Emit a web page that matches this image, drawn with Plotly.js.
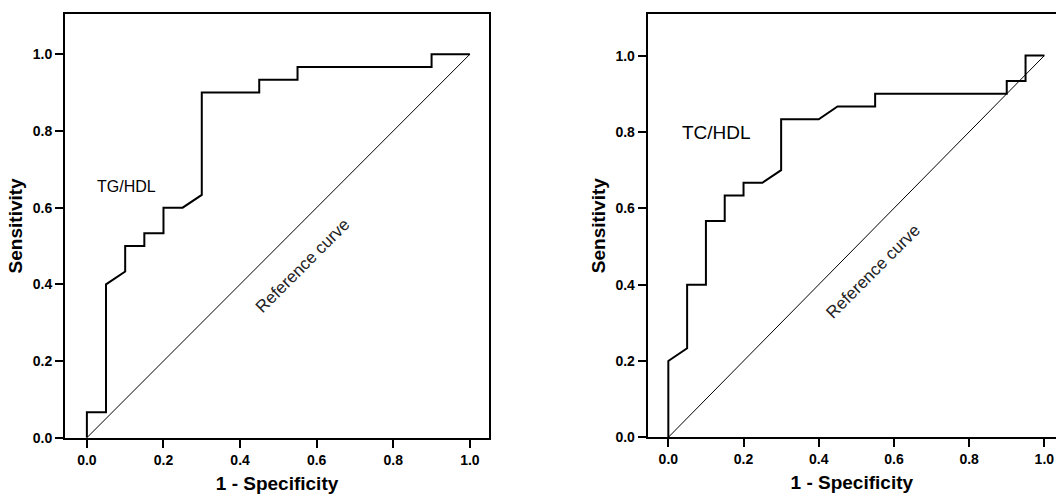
<!DOCTYPE html>
<html>
<head>
<meta charset="utf-8">
<script src="https://cdn.plot.ly/plotly-3.0.1.min.js"></script>
<style>html,body{margin:0;padding:0;background:#fff;}#chart{width:1056px;height:496px;}</style>
</head>
<body>
<div id="chart"></div>
<script>
// TG/HDL ROC curve (1 - specificity, sensitivity)
const tgFpr = [0, 0, 0.05, 0.05, 0.10, 0.10, 0.15, 0.15, 0.20, 0.20, 0.25, 0.30, 0.30, 0.45, 0.45, 0.55, 0.55, 0.90, 0.90, 1.0];
const tgTpr = [0, 0.0667, 0.0667, 0.4, 0.4333, 0.5, 0.5, 0.5333, 0.5333, 0.6, 0.6, 0.6333, 0.9, 0.9, 0.9333, 0.9333, 0.9667, 0.9667, 1.0, 1.0];
// TC/HDL ROC curve
const tcFpr = [0, 0, 0.05, 0.05, 0.10, 0.10, 0.15, 0.15, 0.20, 0.20, 0.25, 0.30, 0.30, 0.40, 0.45, 0.55, 0.55, 0.90, 0.90, 0.95, 0.95, 1.0];
const tcTpr = [0, 0.2, 0.2333, 0.4, 0.4, 0.5667, 0.5667, 0.6333, 0.6333, 0.6667, 0.6667, 0.7, 0.8333, 0.8333, 0.8667, 0.8667, 0.9, 0.9, 0.9333, 0.9333, 1.0, 1.0];
// Reference (chance) line
const refX = [0, 1];
const refY = [0, 1];
const tickVals = [0, 0.2, 0.4, 0.6, 0.8, 1.0];
const tickText = ['0.0', '0.2', '0.4', '0.6', '0.8', '1.0'];
const labels = {left: 'TG/HDL', right: 'TC/HDL', ref: 'Reference curve', x: '1 - Specificity', y: 'Sensitivity'};

const FONT = 'Liberation Sans, Arial, sans-serif';
const tickFont = {family: FONT, size: 14, color: '#000', weight: 'bold'};
const titleFont = {family: FONT, size: 19, color: '#000', weight: 'bold'};

const traces = [
  {x: refX, y: refY, xaxis: 'x', yaxis: 'y', mode: 'lines', line: {color: '#000', width: 1}, hoverinfo: 'skip'},
  {x: tgFpr, y: tgTpr, xaxis: 'x', yaxis: 'y', mode: 'lines', line: {color: '#000', width: 2}},
  {x: refX, y: refY, xaxis: 'x2', yaxis: 'y2', mode: 'lines', line: {color: '#000', width: 1}, hoverinfo: 'skip'},
  {x: tcFpr, y: tcTpr, xaxis: 'x2', yaxis: 'y2', mode: 'lines', line: {color: '#000', width: 2}}
];

function xax(domain, range, mirror) {
  return {
    domain: domain, range: range, showgrid: false, zeroline: false,
    showline: true, linecolor: '#000', linewidth: 2, mirror: mirror,
    ticks: 'outside', ticklen: 8, tickwidth: 2, tickcolor: '#000',
    tickvals: tickVals, ticktext: tickText, tickfont: tickFont,
    title: {text: labels.x, font: titleFont, standoff: 10}, automargin: false
  };
}
function yax(domain, range, mirror, anchor) {
  return {
    domain: domain, range: range, anchor: anchor, showgrid: false, zeroline: false,
    showline: true, linecolor: '#000', linewidth: 2, mirror: mirror,
    ticks: 'outside', ticklen: 8, tickwidth: 2, tickcolor: '#000',
    tickvals: tickVals, ticktext: tickText, tickfont: tickFont,
    title: {text: labels.y, font: titleFont, standoff: 5}, automargin: false
  };
}

const layout = {
  width: 1056, height: 496,
  margin: {l: 0, r: 0, t: 0, b: 0},
  paper_bgcolor: '#fff', plot_bgcolor: '#fff',
  showlegend: false,
  xaxis: Object.assign(xax([0.0616, 0.4631], [-0.057, 1.05], true), {anchor: 'y'}),
  yaxis: yax([0.1175, 0.9718], [0, 1.105], true, 'x'),
  xaxis2: Object.assign(xax([0.6133, 1.0], [-0.055, 1.031], true), {anchor: 'y2'}),
  yaxis2: yax([0.1183, 0.9718], [0, 1.109], false, 'x2'),
  annotations: [
    {xref: 'x', yref: 'y', x: 0.104, y: 0.655, text: labels.left, showarrow: false,
     font: {family: FONT, size: 16, color: '#000'}},
    {xref: 'x', yref: 'y', x: 0.564, y: 0.45, text: labels.ref, showarrow: false, textangle: -45,
     font: {family: FONT, size: 17, color: '#222'}},
    {xref: 'x2', yref: 'y2', x: 0.127, y: 0.799, text: labels.right, showarrow: false,
     font: {family: FONT, size: 19, color: '#000'}},
    {xref: 'x2', yref: 'y2', x: 0.545, y: 0.434, text: labels.ref, showarrow: false, textangle: -45,
     font: {family: FONT, size: 17, color: '#222'}}
  ]
};

Plotly.newPlot('chart', traces, layout, {displayModeBar: false, staticPlot: true});
</script>
</body>
</html>
